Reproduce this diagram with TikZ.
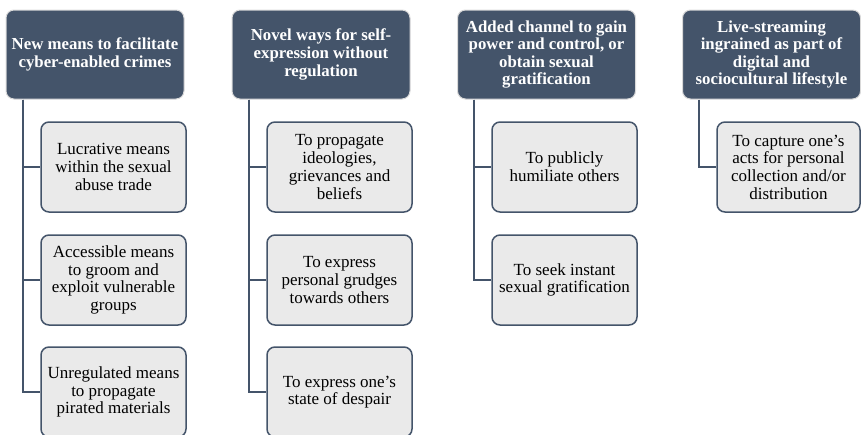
\documentclass[tikz,border=0pt]{standalone}
\usepackage{fontspec}
\setmainfont{Liberation Serif}
\definecolor{slate}{HTML}{44546A}
\definecolor{paleGray}{HTML}{EAEAEA}
\definecolor{rimGray}{HTML}{D9D9D9}
\tikzset{
  x=1pt, y=-1pt,
  headbox/.style={draw=rimGray, line width=1pt, fill=slate, rounded corners=8pt,
    minimum width=178pt, minimum height=89pt, align=center, text=white,
    font=\fontsize{16.8}{17.6}\selectfont\bfseries, inner sep=1pt},
  itembox/.style={draw=slate, line width=1.5pt, fill=paleGray, rounded corners=8pt,
    minimum width=145pt, minimum height=90pt, align=center, text=black,
    font=\fontsize{17}{17.7}\selectfont, inner sep=1pt},
  trunk/.style={draw=slate, line width=2pt}
}
\begin{document}
\begin{tikzpicture}
\useasboundingbox (0,0) rectangle (861,434);

% column headers
\node[headbox] (h1) at (95,54.5) {New means to facilitate\\cyber-enabled crimes};
\node[headbox] (h2) at (321,54.5) {Novel ways for self-\\expression without\\regulation};
\node[headbox] (h3) at (546.5,54.5) {Added channel to gain\\power and control, or\\obtain sexual\\gratification};
\node[headbox] (h4) at (771.5,54.5) {Live-streaming\\ingrained as part of\\digital and\\sociocultural lifestyle};

% column 1 items
\node[itembox] (a1) at (113.5,167) {Lucrative means\\within the sexual\\abuse trade};
\node[itembox] (a2) at (113.5,280) {Accessible means\\to groom and\\exploit vulnerable\\groups};
\node[itembox] (a3) at (113.5,392) {Unregulated means\\to propagate\\pirated materials};

% column 2 items
\node[itembox] (b1) at (339.5,167) {To propagate\\ideologies,\\grievances and\\beliefs};
\node[itembox] (b2) at (339.5,280) {To express\\personal grudges\\towards others};
\node[itembox] (b3) at (339.5,392) {To express one’s\\state of despair};

% column 3 items
\node[itembox] (c1) at (564.5,167) {To publicly\\humiliate others};
\node[itembox] (c2) at (564.5,280) {To seek instant\\sexual gratification};

% column 4 item
\node[itembox, minimum width=143pt] (d1) at (788.5,167) {To capture one’s\\acts for personal\\collection and/or\\distribution};

% connectors from each header down to its items
\foreach \h/\items in {h1/{a1,a2,a3}, h2/{b1,b2,b3}, h3/{c1,c2}, h4/{d1}} {
  \foreach \i in \items {
    \draw[trunk] ([xshift=17pt]\h.south west) |- (\i.west);
  }
}
\end{tikzpicture}
\end{document}
